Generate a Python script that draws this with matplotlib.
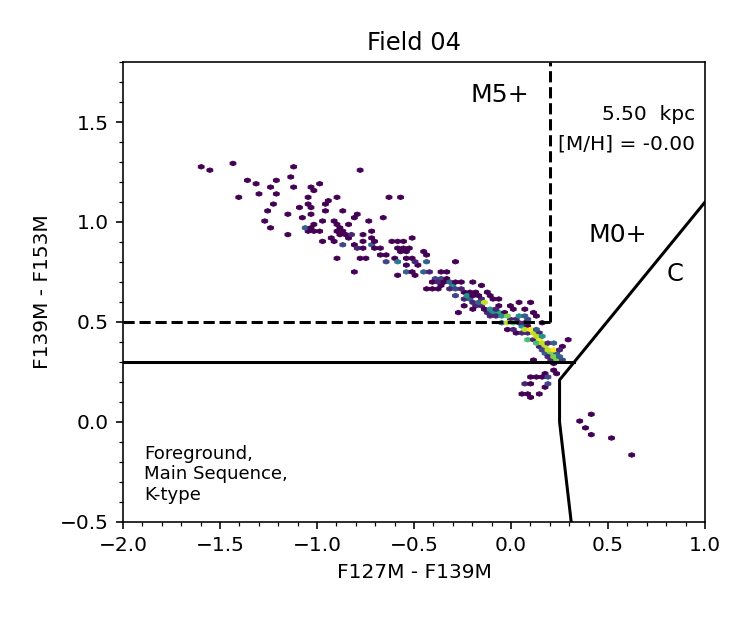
import numpy as np
import matplotlib
matplotlib.use("Agg")
import matplotlib.pyplot as plt

# single stars (one per bin), colour-colour coordinates
single_x = [-1.612, -1.543, -1.431, -1.108, -0.783, -1.361, -1.318, -1.220, -1.122, -0.981,
            -1.036, -1.022, -1.122, -1.233, -1.417, -1.290, -1.206, -1.053, -0.910, -0.629,
            -0.574, -1.220, -1.093, -1.053, -1.036, -0.967, -0.953, -1.249, -1.151, -1.036,
            -0.967, -0.855, -0.783, -0.799, -0.658, -1.263, -1.079, -0.981, -0.924, -0.910,
            -0.826, -0.728, -1.233, -1.053, -1.036, -1.022, -0.996, -1.010, -1.151, -0.893,
            -0.869, -0.855, -0.715, -0.967, -0.938, -0.924, -0.881, -0.852, -0.838, -0.826,
            -0.813, -0.770, -0.715, -0.770, -0.813, -0.799, -0.783, -0.756, -0.715, -0.685,
            -0.701, -0.613, -0.503, -0.598, -0.543, -0.898, -0.783, -0.756, -0.685, -0.658,
            -0.613, -0.572, -0.572, -0.558, -0.543, -0.529, -0.598, -0.543, -0.503, -0.486,
            -0.443, -0.813, -0.572, -0.486, -0.495, -0.443, -0.538, -0.478, -0.503,
            -0.288, -0.392, -0.366, -0.340, -0.366, -0.331, -0.400, -0.340, -0.288, -0.383,
            -0.349, -0.443, -0.409, -0.280, -0.254, -0.194, -0.151, -0.245, -0.220, -0.177,
            -0.280, -0.185, -0.160, -0.134, -0.117, -0.091, -0.057, -0.074, -0.263, -0.228,
            -0.203, -0.142, -0.022, 0.012, 0.004, 0.029, 0.064, 0.115, 0.107, 0.132,
            0.081, 0.150, -0.005, 0.038, 0.253, 0.287, 0.150,
            0.411, 0.352, 0.383, 0.425, 0.523, 0.622, 0.098, 0.124, 0.150, 0.167,
            0.072, 0.098, 0.084, 0.176, 0.043, 0.072, 0.090, 0.158, 0.115, 0.218,
            0.227, 0.227, 0.236]
single_y = [1.277, 1.263, 1.293, 1.277, 1.263, 1.215, 1.198, 1.215, 1.230, 1.198,
            1.168, 1.152, 1.168, 1.168, 1.118, 1.135, 1.135, 1.118, 1.118, 1.118,
            1.118, 1.088, 1.072, 1.088, 1.072, 1.088, 1.102, 1.055, 1.040, 1.040,
            1.055, 1.055, 1.040, 1.023, 1.023, 1.008, 1.023, 1.008, 1.008, 0.993,
            0.993, 1.008, 0.977, 0.960, 0.977, 0.993, 0.960, 0.947, 0.947, 0.947,
            0.977, 0.960, 0.960, 0.897, 0.913, 0.897, 0.930, 0.930, 0.913, 0.947,
            0.930, 0.930, 0.930, 0.897, 0.882, 0.865, 0.865, 0.865, 0.865, 0.865,
            0.897, 0.913, 0.913, 0.897, 0.897, 0.818, 0.818, 0.818, 0.835, 0.835,
            0.818, 0.865, 0.843, 0.860, 0.843, 0.860, 0.802, 0.818, 0.818, 0.802,
            0.852, 0.755, 0.738, 0.738, 0.810, 0.827, 0.777, 0.777, 0.743,
            0.802, 0.727, 0.743, 0.752, 0.710, 0.718, 0.693, 0.693, 0.710, 0.668,
            0.677, 0.660, 0.668, 0.668, 0.693, 0.693, 0.685, 0.652, 0.643, 0.652,
            0.627, 0.627, 0.635, 0.643, 0.627, 0.610, 0.618, 0.585, 0.552, 0.585,
            0.568, 0.568, 0.552, 0.560, 0.585, 0.593, 0.568, 0.593, 0.543, 0.527,
            0.477, 0.502, 0.460, 0.443, 0.377, 0.410, 0.360,
            0.043, 0.010, -0.023, -0.070, -0.087, -0.165, 0.232, 0.232, 0.232, 0.247,
            0.198, 0.198, 0.185, 0.185, 0.138, 0.138, 0.122, 0.138, 0.310, 0.260,
            0.243, 0.285, 0.310]

# crowded bins: position and number of stars
crowd_x = [-1.067, -0.869, -0.728, -0.658, -0.572, -0.529, -0.435, -0.452,
           -0.314, -0.314, -0.237, -0.211, -0.177, -0.151, -0.125, -0.117, -0.091, -0.057,
           -0.039, -0.005, 0.029, 0.064, 0.098, -0.057, -0.022, 0.012, 0.047, 0.072,
           0.107, 0.132, 0.098, 0.132, 0.167, 0.184, 0.210, 0.218, 0.184, 0.218,
           0.236, 0.253, 0.261, 0.188, 0.188,
           0.09, 0.12, 0.15, 0.17, 0.20, 0.23, 0.14]
crowd_y = [0.977, 0.882, 0.882, 0.802, 0.802, 0.755, 0.793, 0.752,
           0.693, 0.677, 0.627, 0.618, 0.593, 0.602, 0.593, 0.560, 0.552, 0.552,
           0.527, 0.527, 0.535, 0.527, 0.518, 0.502, 0.502, 0.493, 0.485, 0.460,
           0.443, 0.452, 0.418, 0.410, 0.427, 0.385, 0.368, 0.393, 0.343, 0.343,
           0.318, 0.327, 0.302, 0.232, 0.198,
           0.46, 0.43, 0.41, 0.39, 0.36, 0.33, 0.40]
crowd_n = [4, 3, 4, 3, 4, 4, 4, 4,
           4, 6, 4, 4, 4, 4, 6, 4, 6, 7,
           4, 7, 6, 4, 3, 4, 8, 8, 6, 10,
           10, 4, 8, 6, 6, 10, 10, 4, 4, 9,
           8, 4, 3, 3, 3,
           10, 10, 9, 10, 10, 9, 8]

# stars filling the main sequence band (two per bin)
band_x = [-0.42, -0.40, -0.37, -0.35, -0.33, -0.30, -0.28, -0.26, -0.24, -0.22,
          -0.20, -0.18, -0.16, -0.14, -0.13, -0.11, -0.10, -0.08, -0.07, -0.05,
          -0.03, -0.02, 0.00, 0.02, 0.03, 0.05, 0.06, 0.08, 0.09, 0.11,
          0.12, 0.14, 0.15, 0.16, 0.17, 0.19, 0.20, 0.22, 0.23, 0.24,
          0.25, 0.20]
band_y = [0.75, 0.72, 0.70, 0.72, 0.66, 0.67, 0.64, 0.66, 0.61, 0.63,
          0.60, 0.58, 0.61, 0.58, 0.55, 0.57, 0.53, 0.57, 0.53, 0.54,
          0.49, 0.53, 0.51, 0.47, 0.51, 0.50, 0.45, 0.49, 0.44, 0.47,
          0.42, 0.44, 0.38, 0.41, 0.36, 0.40, 0.33, 0.37, 0.35, 0.34,
          0.35, 0.31]

x = np.array(single_x + crowd_x + band_x)
y = np.array(single_y + crowd_y + band_y)
n = np.array([1] * len(single_x) + crowd_n + [2] * len(band_x))

fig = plt.figure(figsize=(752 / 145, 617 / 145), dpi=145)
ax = fig.add_axes([0.1636, 0.154, 0.774, 0.7455])

ax.hexbin(x, y, C=n, reduce_C_function=np.sum, gridsize=75,
          cmap='viridis', vmin=1, vmax=11, linewidths=0.5)

# class boundaries
ax.plot([0.2, 0.2], [0.5, 1.8], 'k--', lw=1.5)
ax.plot([-2.0, 0.2], [0.5, 0.5], 'k--', lw=1.5)
ax.plot([-2.0, 0.326], [0.3, 0.3], 'k-', lw=1.5)
ax.plot([0.31, 0.25, 0.25, 1.0], [-0.5, 0.0, 0.21, 1.1], 'k-', lw=1.5)

ax.text(-0.057, 1.635, 'M5+', fontsize=12.5, ha='center', va='center')
ax.text(0.548, 0.935, 'M0+', fontsize=12.5, ha='center', va='center')
ax.text(0.845, 0.74, 'C', fontsize=12, ha='center', va='center')
ax.text(0.948, 1.54, '5.50  kpc', fontsize=10, ha='right', va='center')
ax.text(0.948, 1.39, '[M/H] = -0.00', fontsize=10, ha='right', va='center')
ax.text(-1.892, -0.262, 'Foreground,\nMain Sequence,\nK-type', fontsize=9,
        ha='left', va='center')

ax.set_xlim(-2.0, 1.0)
ax.set_ylim(-0.5, 1.8)
ax.set_xticks(np.arange(-2.0, 1.01, 0.5))
ax.set_yticks(np.arange(-0.5, 1.51, 0.5))
ax.minorticks_on()
ax.tick_params(labelsize=10)
ax.set_xlabel('F127M - F139M', fontsize=10)
ax.set_ylabel('F139M - F153M', fontsize=10)
ax.set_title('Field 04', fontsize=12)

fig.savefig('out.png', dpi=145)
